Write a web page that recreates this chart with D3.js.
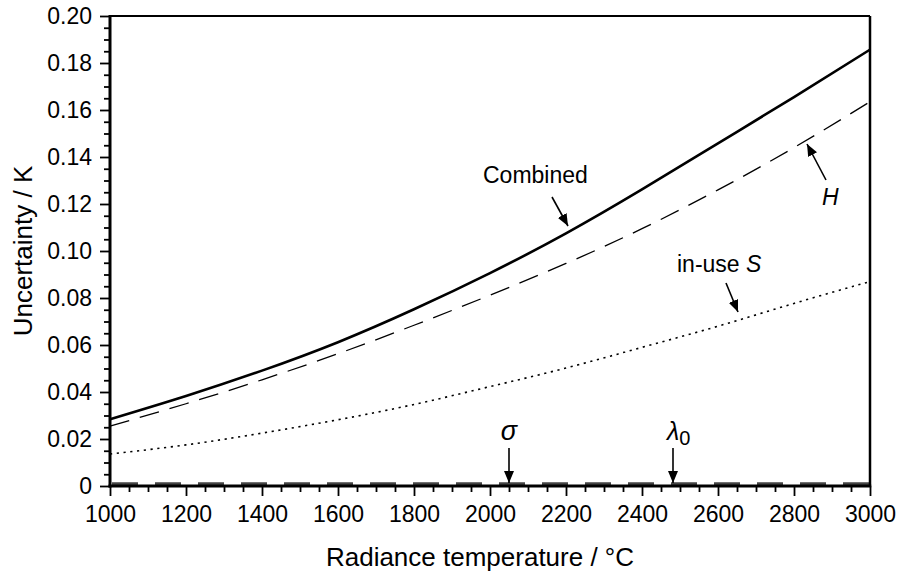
<!DOCTYPE html>
<html>
<head>
<meta charset="utf-8">
<script src="https://cdn.jsdelivr.net/npm/d3@7"></script>
<style>
  html, body { margin: 0; padding: 0; background: #fff; }
  svg { display: block; }
  text { font-family: "Liberation Sans", Arial, sans-serif; fill: #000; }
</style>
</head>
<body>
<svg id="chart" width="898" height="574"></svg>
<script>
// ---- data ----
const temperatures = [1000, 1200, 1400, 1600, 1800, 2000, 2200, 2400, 2600, 2800, 3000];
const combinedU   = [0.0284, 0.0383, 0.0491, 0.0612, 0.0752, 0.0906, 0.1075, 0.1262, 0.1458, 0.1655, 0.1857];
const hU          = [0.0255, 0.0350, 0.0452, 0.0563, 0.0684, 0.0812, 0.0947, 0.1095, 0.1260, 0.1440, 0.1635];
const inUseSU     = [0.0136, 0.0175, 0.0225, 0.0282, 0.0347, 0.0423, 0.0502, 0.0590, 0.0680, 0.0777, 0.0870];
const sigmaU      = [0.0008, 0.0008, 0.0008, 0.0008, 0.0008, 0.0008, 0.0008, 0.0008, 0.0008, 0.0008, 0.0008];
const lambda0U    = [0.0008, 0.0008, 0.0008, 0.0008, 0.0008, 0.0008, 0.0008, 0.0008, 0.0008, 0.0008, 0.0008];

const xMajorTicks = [1000, 1200, 1400, 1600, 1800, 2000, 2200, 2400, 2600, 2800, 3000];
const yMajorTicks = [0, 0.02, 0.04, 0.06, 0.08, 0.10, 0.12, 0.14, 0.16, 0.18, 0.20];
const yTickLabels = ["0", "0.02", "0.04", "0.06", "0.08", "0.10", "0.12", "0.14", "0.16", "0.18", "0.20"];
const xTitle = "Radiance temperature / °C";
const yTitle = "Uncertainty / K";

// ---- layout ----
const svg = d3.select("#chart");
const L = 110, R = 870, T = 16, B = 486;
const x = d3.scaleLinear().domain([1000, 3000]).range([L, R]);
const y = d3.scaleLinear().domain([0, 0.20]).range([B, T]);
const FS = 23;
const TFS = 26;

// minor ticks
const xMinor = d3.range(1000, 3000.1, 50).filter(v => v % 200 !== 0);
const yMinor = d3.range(0, 0.2001, 0.005).filter(v => Math.abs(v / 0.02 - Math.round(v / 0.02)) > 1e-6);

// ---- series ----
const mk = (vals) => temperatures.map((t, i) => [t, vals[i]]);
const line = d3.line().x(d => x(d[0])).y(d => y(d[1])).curve(d3.curveNatural);

const g = svg.append("g");
g.append("path").datum(mk(inUseSU)).attr("d", line)
  .attr("fill", "none").attr("stroke", "#000").attr("stroke-width", 1.6)
  .attr("stroke-dasharray", "2.2 4.6");
g.append("path").datum(mk(hU)).attr("d", line)
  .attr("fill", "none").attr("stroke", "#000").attr("stroke-width", 1.3)
  .attr("stroke-dasharray", "20 11");
g.append("path").datum(mk(combinedU)).attr("d", line)
  .attr("fill", "none").attr("stroke", "#000").attr("stroke-width", 2.6);
g.append("path").datum(mk(sigmaU)).attr("d", line)
  .attr("fill", "none").attr("stroke", "#444").attr("stroke-width", 3)
  .attr("stroke-dasharray", "26 17").attr("stroke-dashoffset", -2);
g.append("path").datum(mk(lambda0U)).attr("d", line)
  .attr("fill", "none").attr("stroke", "#444").attr("stroke-width", 3)
  .attr("stroke-dasharray", "26 17").attr("stroke-dashoffset", -2);

// ---- frame ----
svg.append("line").attr("x1", L).attr("x2", R).attr("y1", T).attr("y2", T)
  .attr("stroke", "#000").attr("stroke-width", 2);
svg.append("line").attr("x1", R).attr("x2", R).attr("y1", T).attr("y2", B)
  .attr("stroke", "#000").attr("stroke-width", 2.5);

// ---- axes ----
const yAxis = d3.axisLeft(y).tickValues(yMajorTicks).tickSize(10).tickPadding(8)
  .tickFormat((d, i) => yTickLabels[i]);
const yAxisMinor = d3.axisLeft(y).tickValues(yMinor).tickSize(6).tickFormat("");
const xAxis = d3.axisBottom(x).tickValues(xMajorTicks).tickSize(10).tickPadding(10)
  .tickFormat(d3.format("d"));
const xAxisMinor = d3.axisBottom(x).tickValues(xMinor).tickSize(6).tickFormat("");

function styleAxis(sel) {
  sel.select(".domain").remove();
  sel.selectAll(".tick line").attr("stroke", "#000").attr("stroke-width", 1.8);
  sel.selectAll(".tick text").attr("font-size", FS).attr("font-family", "Liberation Sans, Arial, sans-serif").attr("fill", "#000");
}
svg.append("g").attr("transform", `translate(${L},0)`).call(yAxisMinor).call(styleAxis);
svg.append("g").attr("transform", `translate(${L},0)`).call(yAxis).call(styleAxis);
svg.append("g").attr("transform", `translate(0,${B})`).call(xAxisMinor).call(styleAxis);
svg.append("g").attr("transform", `translate(0,${B})`).call(xAxis).call(styleAxis);

svg.append("line").attr("x1", L).attr("x2", L).attr("y1", T - 1).attr("y2", B + 1.5)
  .attr("stroke", "#000").attr("stroke-width", 3);
svg.append("line").attr("x1", L - 1.5).attr("x2", R + 1.2).attr("y1", B).attr("y2", B)
  .attr("stroke", "#000").attr("stroke-width", 3);

// ---- titles ----
svg.append("text").attr("x", 480).attr("y", 566)
  .attr("text-anchor", "middle").attr("font-size", TFS).text(xTitle);
svg.append("text").attr("transform", `translate(32,${(T + B) / 2}) rotate(-90)`)
  .attr("text-anchor", "middle").attr("font-size", TFS).text(yTitle);

// ---- annotations ----
svg.append("defs").append("marker").attr("id", "ah")
  .attr("viewBox", "0 0 12 10").attr("refX", 12).attr("refY", 5)
  .attr("markerWidth", 12).attr("markerHeight", 10).attr("markerUnits", "userSpaceOnUse")
  .attr("orient", "auto")
  .append("path").attr("d", "M0,0 L12,5 L0,10 Z").attr("fill", "#000");

function arrow(x1, y1, x2, y2) {
  svg.append("line").attr("x1", x1).attr("y1", y1).attr("x2", x2).attr("y2", y2)
    .attr("stroke", "#000").attr("stroke-width", 1.6).attr("marker-end", "url(#ah)");
}
// Combined
svg.append("text").attr("x", 483).attr("y", 183).attr("font-size", FS).text("Combined");
arrow(552, 197, 568, 226);
// H
svg.append("text").attr("x", 822).attr("y", 205).attr("font-size", FS).attr("font-style", "italic").text("H");
arrow(826, 180, 807, 144);
// in-use S
const st = svg.append("text").attr("x", 677).attr("y", 272).attr("font-size", FS);
st.append("tspan").text("in-use ");
st.append("tspan").attr("font-style", "italic").text("S");
arrow(726, 283, 738, 312);
// sigma
svg.append("text").attr("x", 509).attr("y", 440).attr("text-anchor", "middle")
  .attr("font-size", 27).attr("font-family", "DejaVu Serif, serif").attr("font-style", "italic").text("σ");
arrow(509, 448, 509, 483);
// lambda0
const lt = svg.append("text").attr("x", 667).attr("y", 440).attr("font-size", 25)
  .attr("font-family", "DejaVu Serif, serif");
lt.append("tspan").attr("font-style", "italic").text("λ");
lt.append("tspan").attr("dy", 5).attr("font-size", 20).attr("font-family", "Liberation Sans, Arial, sans-serif").text("0");
arrow(673, 448, 673, 483);
</script>
</body>
</html>
